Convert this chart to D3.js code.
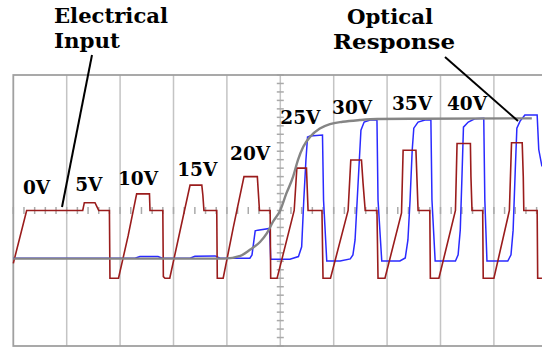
<!DOCTYPE html>
<html>
<head>
<meta charset="utf-8">
<script src="https://cdn.jsdelivr.net/npm/d3@7"></script>
<style>
  html, body { margin: 0; padding: 0; background: #fff; }
  svg { display: block; }
</style>
</head>
<body>
<div id="chart"></div>
<script>
// Scope trace: electrical drive (red), optical response (blue), envelope (gray)
// time in divisions (0..10), amplitude in divisions (-4..4)

const inputT = [0, 0.25, 1.30, 1.33, 1.53, 1.57, 1.60, 1.80, 1.81,
  1.97, 2.15, 2.31, 2.55, 2.56, 2.80, 2.81, 2.84, 2.93, 3.12, 3.31, 3.53, 3.55, 3.57, 3.81, 3.82,
  3.93, 4.12, 4.32, 4.57, 4.61, 4.81, 4.82,
  4.94, 5.26, 5.31, 5.49, 5.52, 5.78, 5.80,
  5.94, 6.27, 6.32, 6.52, 6.55, 6.59, 6.81, 6.83,
  6.96, 7.27, 7.30, 7.54, 7.56, 7.58, 7.80, 7.81,
  7.97, 8.28, 8.31, 8.56, 8.57, 8.59, 8.79, 8.80,
  9.00, 9.29, 9.33, 9.53, 9.55, 9.56, 9.81, 9.82, 9.90]
const inputV = [-1.56, 0, 0, 0.23, 0.23, 0.10, 0, 0, -2,
  -2, -0.75, 0.49, 0.49, 0, 0, -1.95, -2, -2, -0.62, 0.75, 0.75, 0.45, 0, 0, -2,
  -2, -0.5, 1.0, 1.0, 0, 0, -2,
  -2, 0, 1.25, 1.25, 0, 0, -2,
  -2, 0, 1.49, 1.49, 0.8, 0, 0, -2,
  -2, -0.07, 1.78, 1.78, 0.9, 0, 0, -2,
  -2, 0, 1.98, 1.98, 1.0, 0, 0, -2,
  -2, 0, 2.0, 2.0, 1.0, 0, 0, -2, -2]

const opticalT = [0, 2.28, 2.37, 2.71, 2.79, 3.31, 3.40, 3.78, 3.87, 4.43, 4.47, 4.53, 4.58, 4.80, 4.82,
  5.18, 5.34, 5.40, 5.44, 5.48, 5.51, 5.56, 5.79, 5.81, 5.87,
  6.12, 6.31, 6.36, 6.40, 6.44, 6.48, 6.51, 6.57, 6.68, 6.81, 6.83, 6.90,
  7.24, 7.34, 7.39, 7.43, 7.47, 7.50, 7.58, 7.71, 7.82, 7.84, 7.90,
  8.28, 8.33, 8.37, 8.40, 8.43, 8.52, 8.65, 8.81, 8.83, 8.87,
  9.26, 9.32, 9.36, 9.40, 9.43, 9.49, 9.58, 9.81, 9.84, 9.90]
const opticalV = [-1.41, -1.41, -1.36, -1.36, -1.41, -1.41, -1.35, -1.34, -1.41, -1.41, -1.31, -0.60, -0.58, -0.53, -1.44,
  -1.44, -1.36, -1.07, 0.31, 1.49, 2.17, 2.20, 2.23, 0.30, -1.49,
  -1.49, -1.43, -1.31, -0.87, 0.31, 1.49, 2.37, 2.61, 2.67, 2.68, 0.31, -1.49,
  -1.49, -1.40, -0.87, 0.31, 1.78, 2.43, 2.61, 2.67, 2.68, 0.31, -1.49,
  -1.49, -1.31, -0.58, 0.90, 2.46, 2.61, 2.71, 2.72, 0.31, -1.49,
  -1.49, -1.31, -0.58, 1.19, 2.43, 2.64, 2.82, 2.82, 1.80, 1.30]

const envelopeT = [0, 3.96, 4.25, 4.43, 4.62, 4.75, 4.86, 5.0, 5.11, 5.24, 5.33, 5.43, 5.56, 5.74, 5.93, 6.17, 6.49, 6.81, 7.62, 9.71]
const envelopeV = [-1.42, -1.42, -1.34, -1.16, -0.93, -0.67, -0.34, 0.01, 0.49, 1.0, 1.49, 1.88, 2.18, 2.42, 2.55, 2.62, 2.67, 2.70, 2.71, 2.72]

// drive voltage labels, anchored in trace units (left, baseline)
const voltLabels = ['0V', '5V', '10V', '15V', '20V', '25V', '30V', '35V', '40V']
const labelT = [0.18, 1.16, 1.96, 3.07, 4.06, 5.0, 5.97, 7.09, 8.12]
const labelV = [0.49, 0.58, 0.75, 1.02, 1.49, 2.56, 2.86, 2.98, 2.98]

const W = 542, H = 347
const x = d3.scaleLinear().domain([0, 10]).range([13.3, 547.3])
const y = d3.scaleLinear().domain([-4, 4]).range([346, 75])

const svg = d3.select('#chart').append('svg')
  .attr('width', W)
  .attr('height', H)

// graticule
const grid = svg.append('g')
grid.selectAll('.vline')
  .data(d3.range(1, 10))
  .join('line')
  .attr('x1', d => x(d)).attr('x2', d => x(d))
  .attr('y1', y(4)).attr('y2', y(-4))
  .attr('stroke', '#c4c4c4')
  .attr('stroke-width', 1.5)

// center axis ticks
grid.selectAll('.htick')
  .data(d3.range(0, 10.01, 0.2))
  .join('line')
  .attr('x1', d => x(d)).attr('x2', d => x(d))
  .attr('y1', y(0) - 3.5).attr('y2', y(0) + 3.5)
  .attr('stroke', '#aaa')
  .attr('stroke-width', 1.5)

grid.selectAll('.vtick')
  .data(d3.range(-4, 4.01, 0.25))
  .join('line')
  .attr('x1', x(5) - 3.5).attr('x2', x(5) + 3.5)
  .attr('y1', d => y(d)).attr('y2', d => y(d))
  .attr('stroke', '#aaa')
  .attr('stroke-width', 1.5)

grid.append('rect')
  .attr('x', x(0)).attr('y', y(4))
  .attr('width', x(10) - x(0)).attr('height', y(-4) - y(4))
  .attr('fill', 'none')
  .attr('stroke', '#a0a0a0')
  .attr('stroke-width', 1.8)

const line = d3.line().x(d => x(d[0])).y(d => y(d[1]))

svg.append('path')
  .datum(d3.zip(opticalT, opticalV))
  .attr('d', line)
  .attr('fill', 'none')
  .attr('stroke', '#2a2aff')
  .attr('stroke-width', 1.5)

svg.append('path')
  .datum(d3.zip(inputT, inputV))
  .attr('d', line)
  .attr('fill', 'none')
  .attr('stroke', '#9a1c1c')
  .attr('stroke-width', 1.6)

svg.append('path')
  .datum(d3.zip(envelopeT, envelopeV))
  .attr('d', line.curve(d3.curveMonotoneX))
  .attr('fill', 'none')
  .attr('stroke', '#858585')
  .attr('stroke-width', 2.4)

// labels
const font = '"DejaVu Serif", serif'
svg.append('g').selectAll('text')
  .data(voltLabels)
  .join('text')
  .attr('x', (d, i) => x(labelT[i]))
  .attr('y', (d, i) => y(labelV[i]))
  .attr('font-family', font)
  .attr('font-weight', 'bold')
  .attr('font-size', 18.5)
  .text(d => d)

const titles = [
  { lines: ['Electrical', 'Input'], x: [54, 54], w: [114, 66], y: 23, from: [92, 55], to: [62, 207] },
  { lines: ['Optical', 'Response'], x: [347, 333], w: [86, 122], y: 24, from: [445, 57], to: [518, 121] }
]

titles.forEach(t => {
  t.lines.forEach((s, i) => {
    svg.append('text')
      .attr('x', t.x[i])
      .attr('y', t.y + i * 25)
      .attr('font-family', font)
      .attr('font-weight', 'bold')
      .attr('font-size', 21)
      .attr('textLength', t.w[i])
      .attr('lengthAdjust', 'spacingAndGlyphs')
      .text(s)
  })
  svg.append('line')
    .attr('x1', t.from[0]).attr('y1', t.from[1])
    .attr('x2', t.to[0]).attr('y2', t.to[1])
    .attr('stroke', '#000')
    .attr('stroke-width', 2)
})
</script>
</body>
</html>
